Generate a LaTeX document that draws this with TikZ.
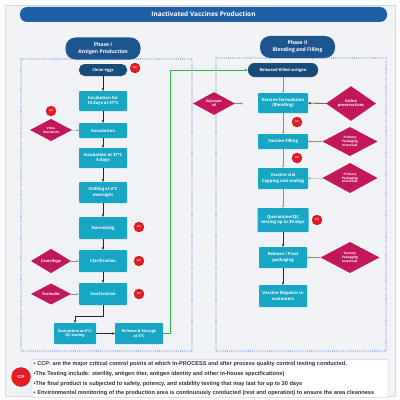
\documentclass[tikz,border=0pt]{standalone}
\usepackage{fontspec}
\setmainfont{Open Sans}
\newfontfamily\notefont{Liberation Sans}
\usetikzlibrary{positioning, arrows.meta, calc, shapes.geometric}

\definecolor{titleblue}{HTML}{1F5FA6}
\definecolor{pillblue}{HTML}{1D568F}
\definecolor{darkpill}{HTML}{184A7A}
\definecolor{stepteal}{HTML}{17A6C4}
\definecolor{inputred}{HTML}{C2185B}
\definecolor{ccpred}{HTML}{E51C23}
\definecolor{ccpring}{HTML}{A31218}
\definecolor{framedot}{HTML}{3D6ECF}
\definecolor{greenline}{HTML}{2DB34A}
\definecolor{panelgray}{HTML}{F1F2F5}
\definecolor{noteframe}{HTML}{9DB9E0}

\begin{document}
\begin{tikzpicture}[
    x=1mm, y=-1mm,
    font=\bfseries,
    titlebar/.style={fill=titleblue, text=white, minimum width=367mm, minimum height=15mm, rounded corners=7mm, font=\bfseries\fontsize{18.5}{20}\selectfont},
    phasepill/.style={fill=pillblue, text=white, minimum width=75mm, minimum height=22mm, rounded corners=10mm, align=center, inner sep=1pt, font=\bfseries\fontsize{14.5}{19}\selectfont},
    startpill/.style={fill=darkpill, text=white, minimum height=12mm, rounded corners=5.5mm, inner sep=1pt, font=\bfseries\fontsize{11.5}{13}\selectfont},
    stepbox/.style={fill=stepteal, text=white, minimum width=48mm, minimum height=20mm, rounded corners=0.8mm, align=center, inner sep=1pt, font=\bfseries\fontsize{12}{15}\selectfont},
    inputdia/.style={diamond, fill=inputred, text=white, inner sep=0pt, align=center, font=\bfseries\fontsize{11}{13}\selectfont},
    ccp/.style={circle, fill=ccpred, draw=ccpring, line width=0.8pt, text=white, minimum size=10mm, inner sep=0pt, font=\bfseries\fontsize{6.5}{6.5}\selectfont},
    phaseframe/.style={draw=framedot, line width=3pt, line cap=round, dash pattern=on 0pt off 2.1mm},
    flow/.style={-{Stealth[length=3mm, width=2.4mm]}, line width=1.5pt, draw=black!85},
    feed/.style={-{Stealth[length=2.5mm, width=2mm]}, line width=1.1pt, draw=black!45},
    greenflow/.style={-{Stealth[length=3.2mm, width=2.6mm]}, line width=2.4pt, draw=greenline},
    noteline/.style={anchor=west, text=black!80, font=\notefont\bfseries\fontsize{16}{18}\selectfont}
]
\useasboundingbox (0,0) rectangle (400,400);

% Background panel
\fill[gray!3] (0,0) rectangle (400,400);
\filldraw[fill=panelgray, draw=black!15] (5,5) rectangle (395,396);

% Title
\node[titlebar] (title) at (203.5,14.5) {Inactivated Vaccines Production};

% Phase frames
\draw[phaseframe] (21,59) rectangle (192,351);
\draw[phaseframe] (216,58) rectangle (386,351);
\node[phasepill] (phaseA) at (103,48.5) {Phase I\\Antigen Production};
\node[phasepill] (phaseB) at (297.5,47) {Phase II\\Blending and Filling};

% Phase I steps
\node[startpill, minimum width=48mm] (eggs) at (103,70) {Clean eggs};
\node[stepbox] (incten) at (103,101) {Incubation for\\10 days at 37°C};
\node[stepbox, minimum height=15mm] (inoc) at (103,130.5) {Inoculation};
\node[stepbox] (incfive) at (103,158) {Incubation at 37°C\\5 days};
\node[stepbox, minimum height=21mm] (chill) at (103,192.5) {Chilling at 4°C\\overnight};
\node[stepbox, minimum height=22mm] (harv) at (103,228) {Harvesting};
\node[stepbox, minimum height=22mm] (clar) at (103,261) {Clarification};
\node[stepbox, minimum height=22mm] (inact) at (103,294) {Inactivation};
\node[stepbox, minimum width=42mm, minimum height=21mm, font=\bfseries\fontsize{10.5}{14}\selectfont] (quar) at (75,333.5) {Quarantine at 4°C/\\QC testing};
\node[stepbox, minimum height=21mm, font=\bfseries\fontsize{11}{14}\selectfont] (relst) at (139,333.5) {Release \& Storage\\at 4°C};

% Phase I inputs and CCPs
\node[inputdia, minimum width=42mm, minimum height=22mm, font=\bfseries\fontsize{9.5}{11}\selectfont] (virus) at (51,130) {virus\\inoculum};
\node[inputdia, minimum width=40mm, minimum height=21mm] (centr) at (51,261) {Centrifuge};
\node[inputdia, minimum width=40mm, minimum height=21mm] (formal) at (51,294) {Formalin};
\node[ccp] (ccpeggs) at (135,68) {CCP};
\node[ccp] (ccpvirus) at (51,111) {CCP};
\node[ccp] (ccpharv) at (139,227) {CCP};
\node[ccp] (ccpclar) at (139,261) {CCP};
\node[ccp] (ccpinact) at (139,294) {CCP};

% Phase II steps
\node[startpill, minimum width=70mm, minimum height=14mm, rounded corners=6.5mm] (killed) at (283,70) {Released Killed antigen};
\node[stepbox, minimum width=50mm] (blend) at (283,103) {Vaccine formulation\\(Blending)};
\node[stepbox, minimum width=50mm, minimum height=15mm] (filling) at (283,141.5) {Vaccine Filling};
\node[stepbox, minimum width=50mm, minimum height=21mm] (capping) at (283,178.5) {Vaccine vial\\Capping and sealing};
\node[stepbox, minimum width=51mm, minimum height=24mm] (qctest) at (283,220) {Quarantine/QC\\testing up to 30 days};
\node[stepbox, minimum height=21mm] (finalpack) at (283,257.5) {Release / Final\\packaging};
\node[stepbox, minimum height=22mm] (dispatch) at (283,296) {Vaccine Dispatch to\\customers};

% Phase II inputs and CCPs
\node[inputdia, minimum width=42mm, minimum height=21mm, font=\bfseries\fontsize{10}{11.5}\selectfont] (adjuv) at (214,103.5) {Adjuvant\\oil};
\node[inputdia, minimum width=50mm, minimum height=25mm] (saline) at (351,103.5) {Saline\\preservatives};
\node[inputdia, minimum width=55mm, minimum height=29mm, font=\bfseries\fontsize{9}{10.5}\selectfont] (primA) at (350,141.5) {Primary\\Packaging\\materials};
\node[inputdia, minimum width=55mm, minimum height=30mm, font=\bfseries\fontsize{9}{10.5}\selectfont] (primB) at (350,178) {Primary\\Packaging\\materials};
\node[inputdia, minimum width=59mm, minimum height=31mm, font=\bfseries\fontsize{9}{10.5}\selectfont] (tert) at (350,257.5) {Tertiary\\Packaging\\materials};
\node[ccp] (ccpblend) at (297,122) {CCP};
\node[ccp] (ccpfill) at (297,158) {CCP};
\node[ccp] (ccpqc) at (317,220) {CCP};
\coordinate (adjend) at (243,103.5);
\coordinate (gturn) at (170,70);

% Phase I flow
\draw[flow] (eggs) -- (incten);
\draw[flow] (incten) -- (inoc);
\draw[flow] (inoc) -- (incfive);
\draw[flow] (incfive) -- (chill);
\draw[flow] (chill) -- (harv);
\draw[flow] (harv) -- (clar);
\draw[flow] (clar) -- (inact);
\draw[flow] (inact.south) -- ++(0,11) -| (quar.north);
\draw[flow] (quar) -- (relst);
\draw[feed] (virus) -- (inoc);
\draw[feed] (centr) -- (clar);
\draw[feed] (formal) -- (inact);

% Transfer to Phase II
\draw[greenflow] (relst.east) -| (gturn) -- (killed.west);

% Phase II flow
\draw[feed] (killed) -- (blend);
\draw[feed] (blend) -- (filling);
\draw[feed] (filling) -- (capping);
\draw[feed] (capping) -- (qctest);
\draw[flow] (qctest) -- (finalpack);
\draw[flow] (finalpack) -- (dispatch);
\draw[feed] (adjuv) -- (adjend);
\draw[flow] (saline) -- (blend);
\draw[feed] (primA) -- (filling);
\draw[feed] (primB) -- (capping);
\draw[feed] (tert) -- (finalpack);

% Notes
\filldraw[fill=white, draw=noteframe, line width=0.8pt, rounded corners=0.8mm] (32,359.5) rectangle (388,397.5);
\node[ccp, minimum size=19mm, font=\bfseries\fontsize{11}{11}\selectfont] (ccpnote) at (21,377) {CCP};
\node[noteline] (noteA) at (32.5,364.5) {▪ CCP: are the major critical control points at which In-PROCESS and after process quality control testing conducted.};
\node[noteline] (noteB) at (32.5,374) {▪The Testing include: sterility, antigen titer, antigen identity and other in-house specifications)};
\node[noteline] (noteC) at (32.5,384) {▪The final product is subjected to safety, potency, and stability testing that may last for up to 30 days};
\node[noteline] (noteD) at (32.5,393.5) {▪ Environmental monitoring of the production area is continuously conducted (rest and operation) to ensure the area cleanness};

\end{tikzpicture}
\end{document}
